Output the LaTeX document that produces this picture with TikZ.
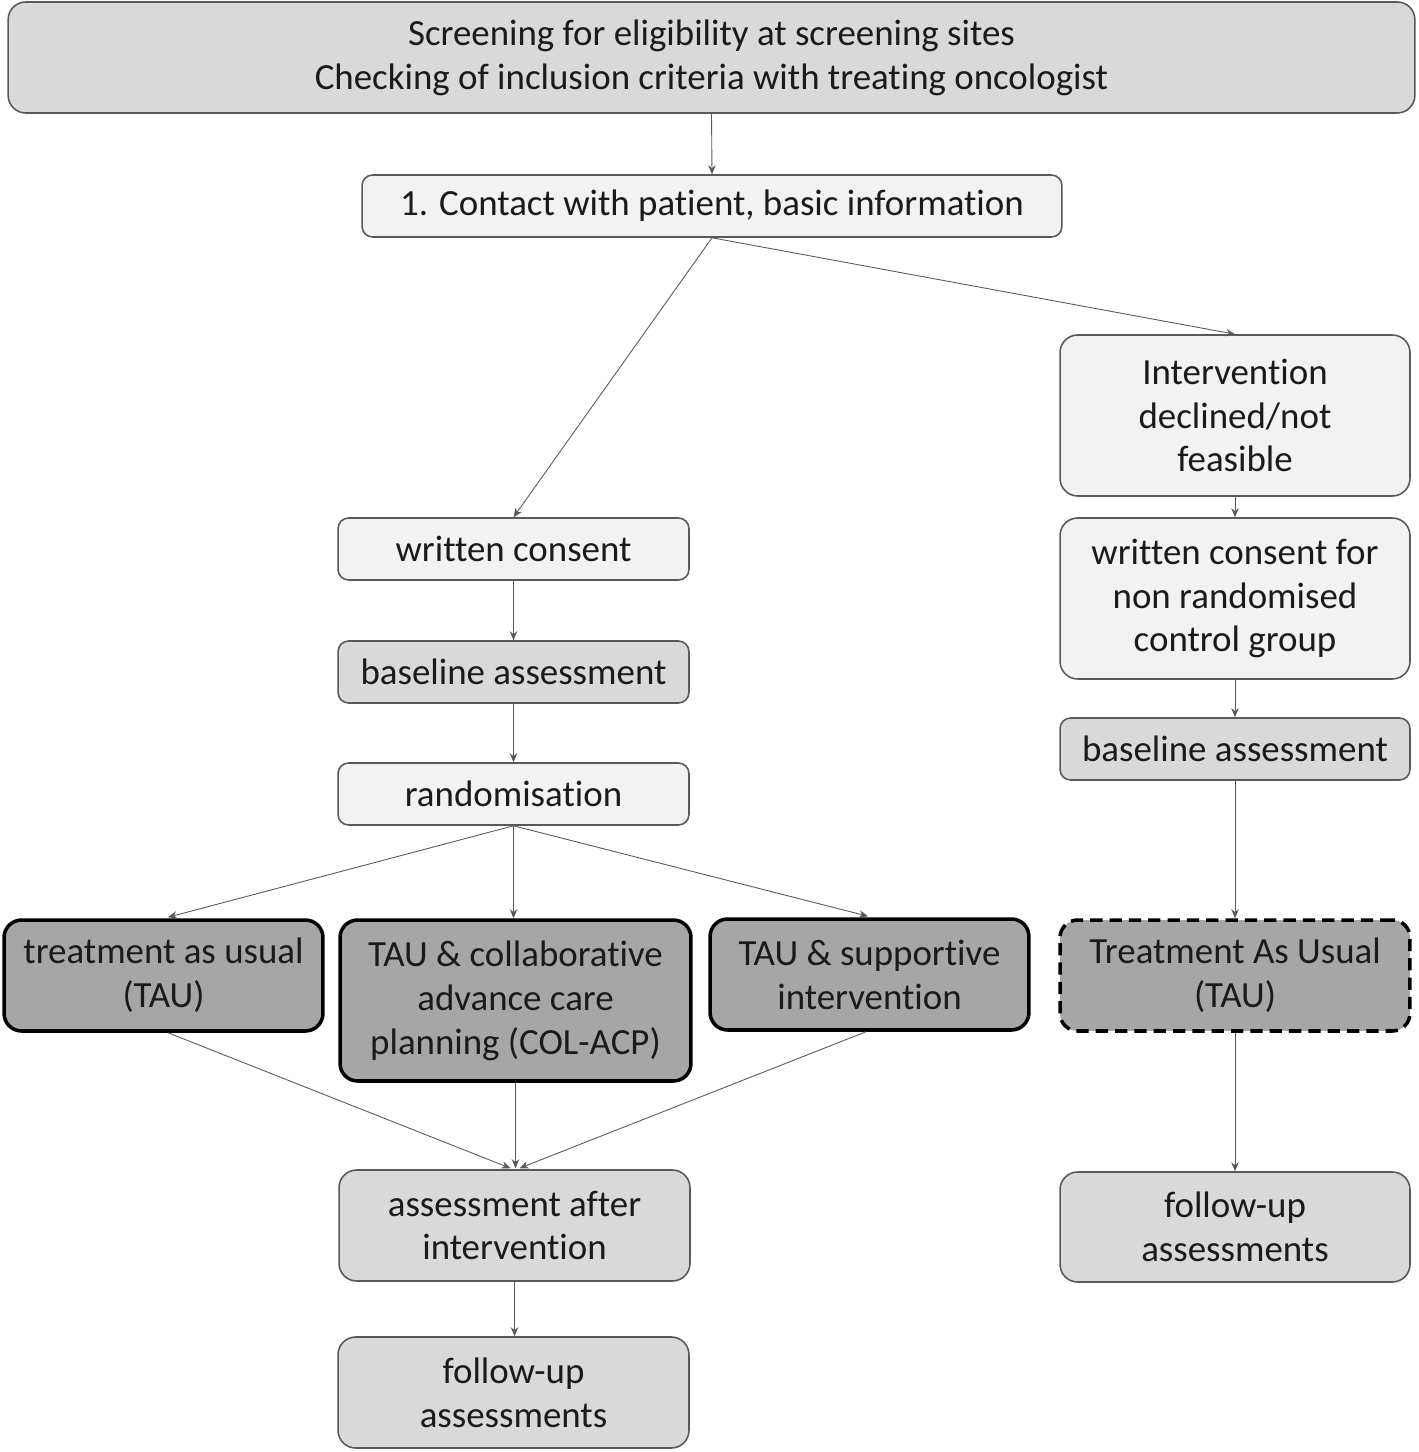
\documentclass[tikz,border=0pt]{standalone}
\usepackage{fontspec}
\setmainfont{Carlito}[Ligatures=CommonOff]
\usetikzlibrary{arrows.meta,calc}
\definecolor{lightbox}{HTML}{F2F2F2}
\definecolor{midbox}{HTML}{D9D9D9}
\definecolor{darkbox}{HTML}{A6A6A6}
\definecolor{edgegray}{HTML}{595959}
\definecolor{txt}{HTML}{1A1A1A}
\begin{document}
\begin{tikzpicture}[x=0.02cm,y=-0.02cm,
  box/.style={draw=edgegray, line width=0.9pt, rounded corners=6pt, align=center, inner sep=0pt,
     font=\fontsize{21pt}{25pt}\selectfont, text=txt},
  tallbox/.style={box, rounded corners=10pt},
  strongbox/.style={box, draw=black, line width=2pt, fill=darkbox, rounded corners=10pt},
  dashbox/.style={strongbox, dash pattern=on 7pt off 4pt},
  conn/.style={draw=edgegray, line width=0.5pt, -{Stealth[length=1.8mm,width=1.5mm]}}
]
\useasboundingbox (0,0) rectangle (1418,1452);

\node[tallbox, fill=midbox, minimum width=28.14cm, minimum height=2.22cm] (top) at (711.5,57.5)
  {Screening for eligibility at screening sites\\Checking of inclusion criteria with treating oncologist};
\node[box, fill=lightbox, minimum width=14cm, minimum height=1.24cm] (contact) at (712,206)
  {1. Contact with patient, basic information};

\node[tallbox, fill=lightbox, minimum width=7cm, minimum height=3.22cm] (interv) at (1235,415.5)
  {Intervention\\declined/not\\feasible};
\node[tallbox, fill=lightbox, minimum width=7cm, minimum height=3.22cm] (wcr) at (1235,598.5)
  {written consent for\\non randomised\\control group};
\node[box, fill=midbox, minimum width=7cm, minimum height=1.24cm] (baser) at (1235,749)
  {baseline assessment};
\node[dashbox, minimum width=7cm, minimum height=2.22cm] (taur) at (1235,975.5)
  {Treatment As Usual\\(TAU)};
\node[tallbox, fill=midbox, minimum width=7cm, minimum height=2.2cm] (fur) at (1235,1227)
  {follow-up\\assessments};

\node[box, fill=lightbox, minimum width=7.02cm, minimum height=1.24cm] (wc) at (513.5,549)
  {written consent};
\node[box, fill=midbox, minimum width=7.02cm, minimum height=1.24cm] (base) at (513.5,672)
  {baseline assessment};
\node[box, fill=lightbox, minimum width=7.02cm, minimum height=1.24cm] (rand) at (513.5,794)
  {randomisation};

\node[strongbox, minimum width=6.38cm, minimum height=2.22cm] (tau) at (163.5,975.5)
  {treatment as usual\\(TAU)};
\node[strongbox, minimum width=7.02cm, minimum height=3.22cm] (col) at (515.5,1000.5)
  {TAU \& collaborative\\advance care\\planning (COL-ACP)};
\node[strongbox, minimum width=6.38cm, minimum height=2.22cm] (sup) at (869.5,974.5)
  {TAU \& supportive\\intervention};

\node[tallbox, fill=midbox, minimum width=7.02cm, minimum height=2.22cm] (assess) at (514.5,1225.5)
  {assessment after\\intervention};
\node[tallbox, fill=midbox, minimum width=7.02cm, minimum height=2.22cm] (fu) at (513.5,1392.5)
  {follow-up\\assessments};

\coordinate (inL) at ($(assess.north)+(-4,-1)$);
\coordinate (inM) at ($(col.south |- assess.north)+(0,-1)$);
\coordinate (inR) at ($(assess.north)+(5,-1)$);
\coordinate (tauin) at ($(tau.north)+(4.5,-1)$);
\coordinate (supin) at ($(sup.north)+(-1.5,-1)$);

\draw[conn] (top.south) -- (contact.north);
\draw[conn] (contact.south) -- (wc.north);
\draw[conn] (contact.south) -- (interv.north);
\draw[conn] (interv.south) -- (wcr.north);
\draw[conn] (wcr.south) -- (baser.north);
\draw[conn] (baser.south) -- (taur.north);
\draw[conn] (taur.south) -- (fur.north);
\draw[conn] (wc.south) -- (base.north);
\draw[conn] (base.south) -- (rand.north);
\draw[conn] (rand.south) -- (tauin);
\draw[conn] (rand.south) -- (rand.south |- col.north);
\draw[conn] (rand.south) -- (supin);
\draw[conn] ($(tau.south)+(4.5,0)$) -- (inL);
\draw[conn] (col.south) -- (inM);
\draw[conn] ($(sup.south)+(-3.5,0)$) -- (inR);
\draw[conn] (assess.south) -- (assess.south |- fu.north);
\end{tikzpicture}
\end{document}
